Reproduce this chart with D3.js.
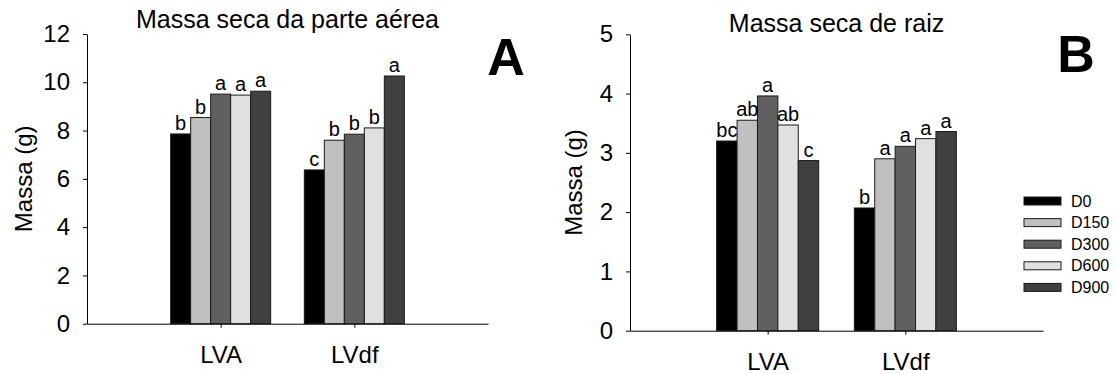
<!DOCTYPE html>
<html>
<head>
<meta charset="utf-8">
<script src="https://cdn.jsdelivr.net/npm/d3@7"></script>
<style>
  body { margin: 0; background: #fff; }
  text { font-family: "Liberation Sans", Arial, sans-serif; fill: #000; }
</style>
</head>
<body>
<script>
const width = 1115;
const height = 374;

const soils = ["LVA", "LVdf"];
const doses = ["D0", "D150", "D300", "D600", "D900"];
const colors = ["#000000", "#c0c0c0", "#606060", "#e0e0e0", "#404040"];

// massa seca da parte aérea (g)
const shootLVA = [7.86, 8.54, 9.51, 9.47, 9.63];
const shootLVdf = [6.37, 7.60, 7.85, 8.11, 10.26];
const shootLetLVA = ["b", "b", "a", "a", "a"];
const shootLetLVdf = ["c", "b", "b", "b", "a"];
const shootTicks = [0, 2, 4, 6, 8, 10, 12];

// massa seca de raiz (g)
const rootLVA = [3.20, 3.55, 3.96, 3.47, 2.87];
const rootLVdf = [2.07, 2.90, 3.11, 3.24, 3.36];
const rootLetLVA = ["bc", "ab", "a", "ab", "c"];
const rootLetLVdf = ["b", "a", "a", "a", "a"];
const rootTicks = [0, 1, 2, 3, 4, 5];

const svg = d3.select("body").append("svg")
  .attr("width", width)
  .attr("height", height);

function panel(p) {
  const g = svg.append("g");

  const x = d3.scalePoint()
    .domain(soils)
    .range([p.left, p.right])
    .padding(1);

  const y = d3.scaleLinear()
    .domain([0, d3.max(p.ticks)])
    .range([p.bottom, p.top]);

  const inner = d3.scaleBand()
    .domain(doses)
    .range([-p.group / 2, p.group / 2]);

  // bars
  const rows = soils.map((s, i) => ({soil: s, values: p.values[i], letters: p.letters[i]}));
  const grp = g.selectAll(".grp").data(rows).join("g")
    .attr("transform", d => `translate(${x(d.soil)},0)`);

  grp.selectAll("rect")
    .data(d => d.values.map((v, j) => ({dose: doses[j], v: v, c: colors[j]})))
    .join("rect")
    .attr("x", d => inner(d.dose))
    .attr("y", d => y(d.v))
    .attr("width", inner.bandwidth())
    .attr("height", d => y(0) - y(d.v))
    .attr("fill", d => d.c)
    .attr("stroke", "#1a1a1a")
    .attr("stroke-width", 1);

  grp.selectAll(".let")
    .data(d => d.values.map((v, j) => ({dose: doses[j], v: v, t: d.letters[j]})))
    .join("text")
    .attr("class", "let")
    .attr("x", d => inner(d.dose) + inner.bandwidth() / 2)
    .attr("y", d => y(d.v) - 4)
    .attr("text-anchor", "middle")
    .style("font-size", "20px")
    .text(d => d.t);

  // axes
  g.append("g")
    .attr("transform", `translate(${p.left},0)`)
    .call(d3.axisLeft(y).tickValues(p.ticks).tickFormat(d3.format("d"))
      .tickSize(4).tickSizeOuter(0).tickPadding(13))
    .call(a => a.selectAll("text").style("font-size", "24px").attr("font-family", null))
    .call(a => a.selectAll("line,path").attr("stroke", "#000"));

  g.append("g")
    .attr("transform", `translate(0,${p.bottom})`)
    .call(d3.axisBottom(x).tickSize(4).tickSizeOuter(0).tickPadding(18))
    .call(a => a.selectAll("text").style("font-size", "24px").attr("font-family", null))
    .call(a => a.selectAll("line,path").attr("stroke", "#000"));

  // title, y label, panel letter
  g.append("text")
    .attr("x", (p.left + p.right) / 2)
    .attr("y", p.titleY)
    .attr("text-anchor", "middle")
    .style("font-size", "25px")
    .text(p.title);

  g.append("text")
    .attr("transform", `translate(${p.labelX},${(p.top + p.bottom) / 2}) rotate(-90)`)
    .attr("text-anchor", "middle")
    .style("font-size", "24px")
    .text("Massa (g)");

  g.append("text")
    .attr("x", p.tagX)
    .attr("y", p.tagY)
    .attr("text-anchor", "middle")
    .style("font-size", "52px")
    .style("font-weight", "bold")
    .text(p.tag);
}

panel({
  left: 87, right: 488, top: 34, bottom: 323.7, group: 100,
  ticks: shootTicks, values: [shootLVA, shootLVdf], letters: [shootLetLVA, shootLetLVdf],
  title: "Massa seca da parte aérea", titleY: 28, labelX: 32,
  tag: "A", tagX: 506, tagY: 75
});

panel({
  left: 630, right: 1043, top: 34.3, bottom: 330.7, group: 102,
  ticks: rootTicks, values: [rootLVA, rootLVdf], letters: [rootLetLVA, rootLetLVdf],
  title: "Massa seca de raiz", titleY: 32, labelX: 582,
  tag: "B", tagX: 1076, tagY: 72
});

// legend
const legend = svg.append("g")
  .attr("transform", "translate(1024,201)");

const leg = legend.selectAll("g").data(doses).join("g")
  .attr("transform", (d, i) => `translate(0,${i * 21.6})`);

leg.append("rect")
  .attr("x", 0)
  .attr("y", -4)
  .attr("width", 37)
  .attr("height", 8)
  .attr("fill", (d, i) => colors[i])
  .attr("stroke", "#1a1a1a")
  .attr("stroke-width", 1);

leg.append("text")
  .attr("x", 47)
  .attr("dy", "0.35em")
  .style("font-size", "16px")
  .text(d => d);
</script>
</body>
</html>
